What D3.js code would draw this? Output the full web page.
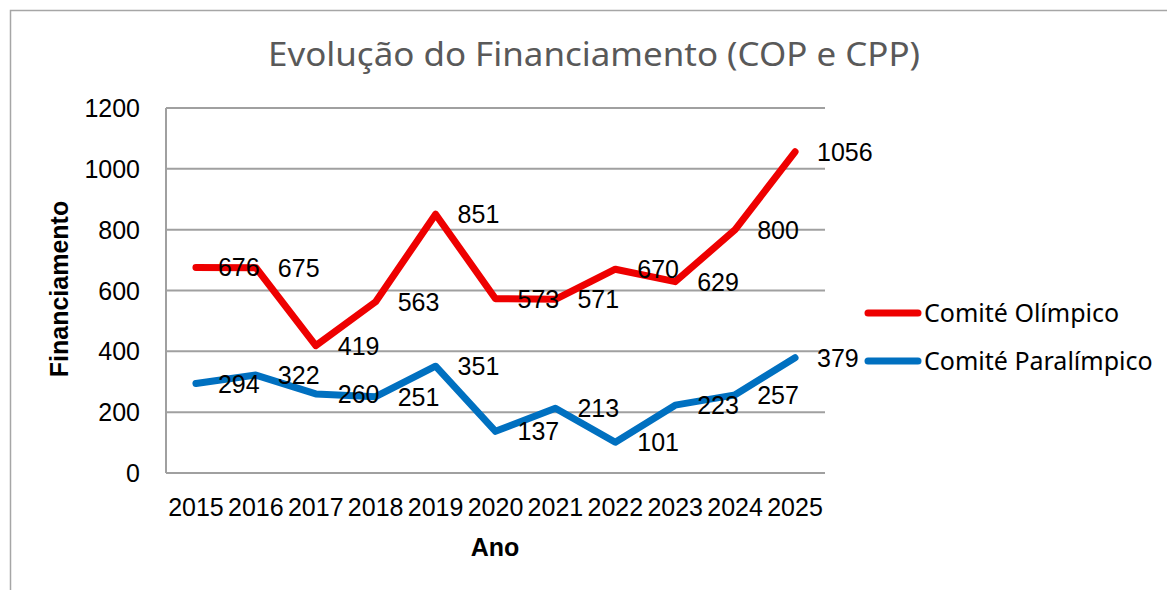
<!DOCTYPE html>
<html>
<head>
<meta charset="utf-8">
<script src="https://cdn.jsdelivr.net/npm/d3@7"></script>
<style>
  body { margin: 0; background: #fff; }
  svg { display: block; }
</style>
</head>
<body>
<svg id="chart" width="1167" height="590"></svg>
<script>
const svg = d3.select("#chart"),
    width = +svg.attr("width"),
    height = +svg.attr("height");

// dados
const anos = ["2015", "2016", "2017", "2018", "2019", "2020", "2021", "2022", "2023", "2024", "2025"];
const olimpico = [676, 675, 419, 563, 851, 573, 571, 670, 629, 800, 1056];
const paralimpico = [294, 322, 260, 251, 351, 137, 213, 101, 223, 257, 379];
const seriesNames = ["Comité Olímpico", "Comité Paralímpico"];
const seriesColors = ["#ee0000", "#0070c0"];
const yTicks = [0, 200, 400, 600, 800, 1000, 1200];

const margin = {left: 166, right: 825, top: 108, bottom: 473};
const numFont = "'Liberation Sans', Arial, sans-serif";
const txtFont = "'Noto Sans', 'Open Sans', sans-serif";

// borda do gráfico (cortada à direita e em baixo)
svg.append("rect")
    .attr("x", 10.5).attr("y", 10.5)
    .attr("width", 1300).attr("height", 700)
    .attr("fill", "none")
    .attr("stroke", "#a6a6a6")
    .attr("stroke-width", 1.5);

let x = d3.scaleBand().domain(anos).range([margin.left, margin.right]);
let y = d3.scaleLinear().domain([0, 1200]).range([margin.bottom, margin.top]);

// grelha
svg.append("g")
    .selectAll("line")
    .data(yTicks)
    .enter()
    .append("line")
    .attr("x1", margin.left)
    .attr("x2", margin.right)
    .attr("y1", d => y(d))
    .attr("y2", d => y(d))
    .attr("stroke", "#a0a0a0")
    .attr("stroke-width", 2);

svg.append("line")
    .attr("x1", margin.left).attr("x2", margin.left)
    .attr("y1", y(1200)).attr("y2", y(0))
    .attr("stroke", "#a0a0a0")
    .attr("stroke-width", 2);

// rótulos eixo y
svg.append("g")
    .selectAll("text")
    .data(yTicks)
    .enter()
    .append("text")
    .attr("x", 140)
    .attr("y", d => y(d))
    .attr("dy", "0.36em")
    .attr("text-anchor", "end")
    .style("font-family", numFont)
    .style("font-size", "25px")
    .attr("fill", "#000")
    .text(d => d);

// rótulos eixo x
svg.append("g")
    .selectAll("text")
    .data(anos)
    .enter()
    .append("text")
    .attr("x", d => x(d) + x.bandwidth() / 2)
    .attr("y", 516)
    .attr("text-anchor", "middle")
    .style("font-family", numFont)
    .style("font-size", "25px")
    .attr("fill", "#000")
    .text(d => d);

// títulos dos eixos
svg.append("text")
    .attr("x", 495).attr("y", 556)
    .attr("text-anchor", "middle")
    .style("font-family", numFont)
    .style("font-size", "25px")
    .style("font-weight", "bold")
    .text("Ano");

svg.append("text")
    .attr("transform", "translate(68,289) rotate(-90)")
    .attr("text-anchor", "middle")
    .style("font-family", numFont)
    .style("font-size", "25px")
    .style("font-weight", "bold")
    .text("Financiamento");

// título
svg.append("text")
    .attr("x", 594).attr("y", 66)
    .attr("text-anchor", "middle")
    .attr("textLength", 652)
    .attr("lengthAdjust", "spacingAndGlyphs")
    .style("font-family", txtFont)
    .style("font-size", "33px")
    .attr("fill", "#595959")
    .text("Evolução do Financiamento (COP e CPP)");

// linhas
let line = d3.line()
    .x((d, i) => x(anos[i]) + x.bandwidth() / 2)
    .y(d => y(d));

let allSeries = [olimpico, paralimpico];

allSeries.forEach(function (values, s) {
    svg.append("path")
        .datum(values)
        .attr("d", line)
        .attr("fill", "none")
        .attr("stroke", seriesColors[s])
        .attr("stroke-width", 7)
        .attr("stroke-linejoin", "round")
        .attr("stroke-linecap", "round");
});

// rótulos de dados (à direita)
allSeries.forEach(function (values, s) {
    svg.append("g")
        .selectAll("text")
        .data(values)
        .enter()
        .append("text")
        .attr("x", (d, i) => x(anos[i]) + x.bandwidth() / 2 + 22)
        .attr("y", d => y(d))
        .attr("dy", "0.36em")
        .style("font-family", numFont)
        .style("font-size", "25px")
        .attr("fill", "#000")
        .text(d => d);
});

// legenda
const legendY = [313, 361];
let legend = svg.append("g")
    .selectAll("g")
    .data(seriesNames)
    .enter()
    .append("g")
    .attr("transform", (d, i) => "translate(0," + legendY[i] + ")");

legend.append("line")
    .attr("x1", 868).attr("x2", 918)
    .attr("y1", 0).attr("y2", 0)
    .attr("stroke", (d, i) => seriesColors[i])
    .attr("stroke-width", 7)
    .attr("stroke-linecap", "round");

legend.append("text")
    .attr("x", 924)
    .attr("y", 0)
    .attr("dy", "0.35em")
    .style("font-family", txtFont)
    .style("font-size", "25px")
    .attr("fill", "#000")
    .text(d => d);
</script>
</body>
</html>
